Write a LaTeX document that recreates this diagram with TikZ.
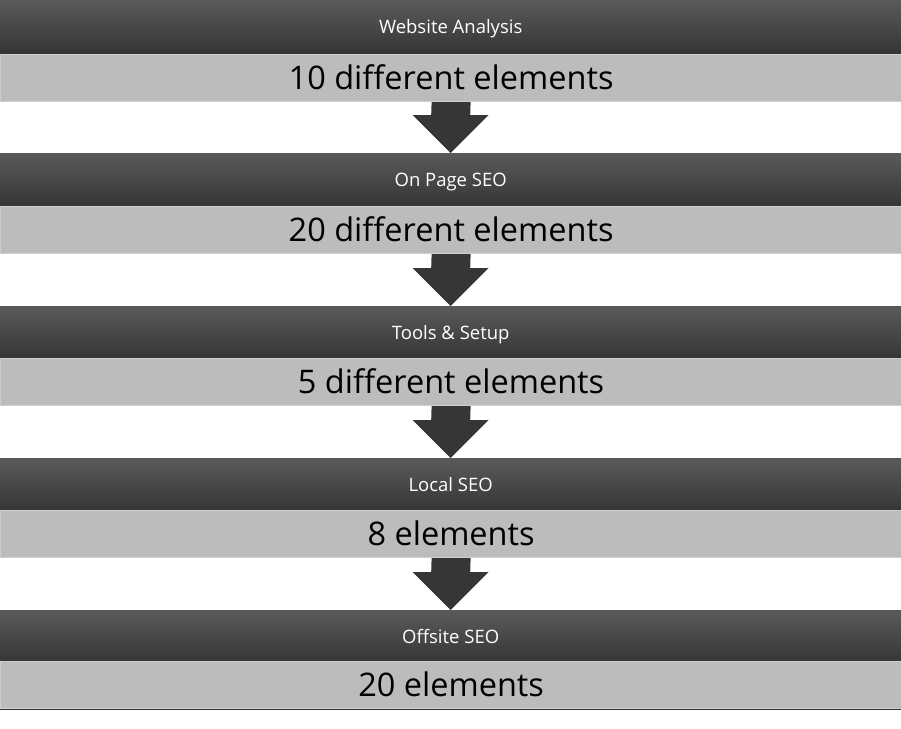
\documentclass[tikz,border=0pt]{standalone}
\usepackage{fontspec}
\setmainfont{Open Sans}
\usetikzlibrary{calc}
\definecolor{hdtop}{HTML}{5A5A5A}
\definecolor{hdbot}{HTML}{353535}
\definecolor{bandfill}{HTML}{BCBCBC}
\definecolor{bandline}{HTML}{CFCFCF}
\definecolor{arrowfill}{HTML}{363636}
\tikzset{
  header/.style={anchor=north west, minimum width=901pt, minimum height=53pt, inner sep=0pt,
    text height=14pt, text depth=1pt,
    top color=hdtop, bottom color=hdbot, text=white, font=\fontsize{18.5}{20}\selectfont},
  band/.style={anchor=north west, minimum width=901pt, minimum height=47pt, inner sep=0pt,
    fill=bandfill, draw=bandline, line width=1.2pt, text=black, font=\fontsize{32.5}{36}\selectfont},
  downarrow/.style={fill=arrowfill, draw=none}
}
\newcommand{\dnarrow}[2]{%
  \fill[downarrow] ($(#1.south)+(-19.5,0)$) -- ($(#1.south)+(19.5,0)$) -- ($(#2.north)+(19.5,-38)$)
    -- ($(#2.north)+(38,-38)$) -- (#2.north) -- ($(#2.north)+(-38,-38)$) -- ($(#2.north)+(-19.5,-38)$) -- cycle;}
\begin{document}
\begin{tikzpicture}[x=1pt,y=-1pt]
\useasboundingbox[fill=white] (0,0) rectangle (901,728);
\node[header] (h1) at (0,0) {Website Analysis};
\node[band] (b1) at (0,54) {\raisebox{1.5pt}{10 different elements}};
\node[header] (h2) at (0,153) {On Page SEO};
\node[band] (b2) at (0,206) {\raisebox{1.5pt}{20 different elements}};
\node[header] (h3) at (0,306) {Tools \& Setup};
\node[band] (b3) at (0,358) {\raisebox{1.5pt}{5 different elements}};
\node[header] (h4) at (0,458) {Local SEO};
\node[band] (b4) at (0,510) {\raisebox{1.5pt}{8 elements}};
\node[header] (h5) at (0,610) {Offsite SEO};
\node[band] (b5) at (0,661) {\raisebox{1.5pt}{20 elements}};
\draw[hdbot, line width=1.2pt] (b5.south west) -- (b5.south east);
\dnarrow{b1}{h2}
\dnarrow{b2}{h3}
\dnarrow{b3}{h4}
\dnarrow{b4}{h5}
\end{tikzpicture}
\end{document}
